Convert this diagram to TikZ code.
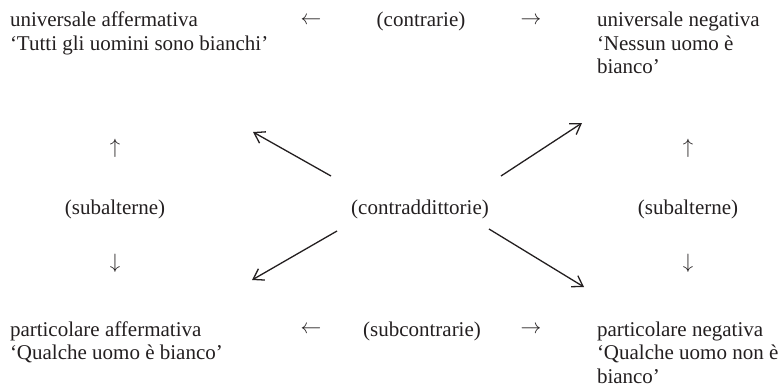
\documentclass[tikz,border=0pt]{standalone}
\usepackage{fontspec}
\setmainfont{Liberation Serif}
\usetikzlibrary{arrows.meta}
\definecolor{ink}{HTML}{231F20}
\tikzset{
  lbl/.style={inner sep=0pt, outer sep=0pt, text=ink, font=\fontsize{21}{23.5}\selectfont},
  blk/.style={lbl, anchor=base west, align=left},
  ctr/.style={lbl, anchor=base},
  glyph/.style={lbl, anchor=center},
  diag/.style={draw=ink, line width=1.3pt, -{Straight Barb[length=10pt,width=13pt,line width=1.3pt]}}
}
\begin{document}
\begin{tikzpicture}[x=1pt,y=-1pt]
\path[use as bounding box] (0,0) rectangle (780,386);
% corner blocks (anchored at the baseline of their last line)
\node[blk] (UA) at (10,50) {universale affermativa\\‘Tutti gli uomini sono bianchi’};
\node[blk] (UN) at (597,73.5) {universale negativa\\‘Nessun uomo è\\bianco’};
\node[blk] (PA) at (10,359.5) {particolare affermativa\\‘Qualche uomo è bianco’};
\node[blk] (PN) at (597,383) {particolare negativa\\‘Qualche uomo non è\\bianco’};
% top relation
\node[glyph] (tl) at (311,20.5) {$\leftarrow$};
\node[ctr] (contr) at (421,26.5) {(contrarie)};
\node[glyph] (tr) at (531,20.5) {$\rightarrow$};
% bottom relation
\node[glyph] (bl) at (311,330) {$\leftarrow$};
\node[ctr] (subc) at (422,336) {(subcontrarie)};
\node[glyph] (br) at (531,330) {$\rightarrow$};
% left column
\node[glyph] (lu) at (115,148) {$\uparrow$};
\node[ctr] (sl) at (115,214) {(subalterne)};
\node[glyph] (ld) at (115,263) {$\downarrow$};
% right column
\node[glyph] (ru) at (688,148) {$\uparrow$};
\node[ctr] (sr) at (688,214) {(subalterne)};
\node[glyph] (rd) at (688,263) {$\downarrow$};
% centre
\node[ctr] (cd) at (420,214) {(contraddittorie)};
\coordinate (s1) at (331,176); \coordinate (e1) at (253,132);
\coordinate (s2) at (501,176); \coordinate (e2) at (582,123);
\coordinate (s3) at (337,231); \coordinate (e3) at (252,280);
\coordinate (s4) at (489,229); \coordinate (e4) at (584,287);
\draw[diag] (s1) -- (e1);
\draw[diag] (s2) -- (e2);
\draw[diag] (s3) -- (e3);
\draw[diag] (s4) -- (e4);
\end{tikzpicture}
\end{document}
